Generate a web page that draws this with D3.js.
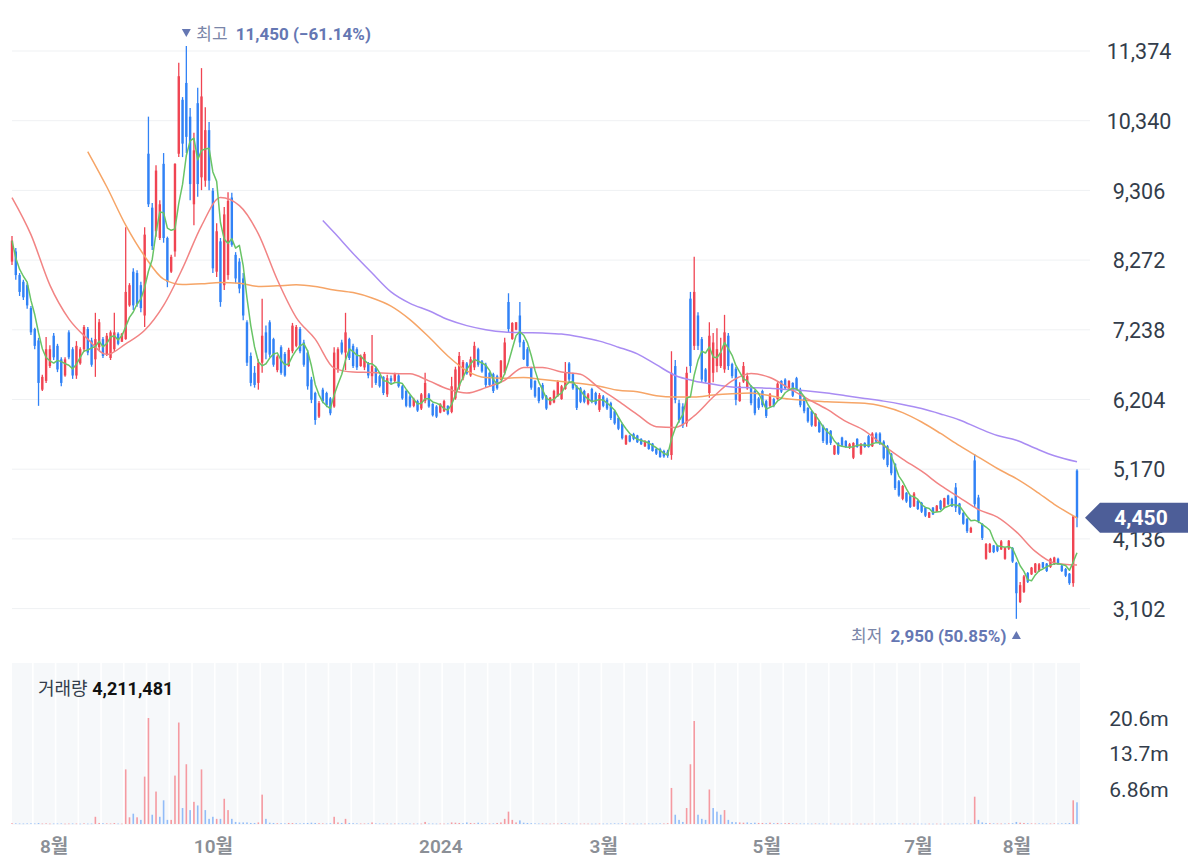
<!DOCTYPE html>
<html lang="ko"><head><meta charset="utf-8">
<script src="https://cdn.jsdelivr.net/npm/d3@7/dist/d3.min.js"></script>
<style>
html,body{margin:0;padding:0;background:#ffffff;overflow:hidden;}
svg{display:block;}
text{font-family:Roboto,"Noto Sans CJK KR",sans-serif;}
</style></head><body>
<svg id="chart" width="1188" height="868"></svg>
<script>
// [open, high, low, close] per trading day
const ohlc = [
[8250,8630,8200,8560],[8400,8450,7980,8050],[8050,8080,7740,7800],[7950,7980,7680,7720],[7900,7930,7550,7600],[7560,7590,7160,7200],[7250,7270,6950,7000],[7080,7120,6110,6450],[6350,6570,6330,6540],[6480,7130,6450,6950],
[6700,7010,6670,6950],[7150,7190,6790,6830],[7000,7030,6610,6650],[6800,6830,6400,6450],[6560,6830,6540,6800],[7200,7230,6800,6830],[6950,6980,6510,6560],[6560,7070,6510,7000],[6740,6980,6720,6950],[6950,7310,6910,7280],
[7250,7280,6860,6900],[7080,7120,6690,6720],[6800,7490,6540,7100],[6980,7400,6940,7350],[7100,7130,6820,6850],[6880,7190,6850,7150],[6820,7230,6790,7200],[6950,7490,6910,7200],[7180,7200,7010,7030],[7060,7190,7060,7180],
[7100,8760,7090,7800],[7600,7930,7580,7900],[8100,8150,7530,7600],[8080,8120,7580,7620],[7900,7950,7500,7560],[7450,8760,7280,8650],[9850,10400,9060,9100],[9050,9120,8420,8480],[8700,9680,8620,9600],[8600,9160,8570,9100],
[9700,9860,8530,8600],[8600,8620,7870,7950],[8100,8350,8080,8320],[8400,9710,8320,9700],[9850,11200,9800,11000],[10650,10690,9800,10000],[10900,11450,9860,10100],[10400,10530,9160,9400],[9100,10160,8790,9900],[10600,10830,9210,9400],
[9500,11120,9310,10700],[9450,10540,9360,10200],[10200,10320,9310,9450],[9300,9340,8080,8150],[8100,8820,8020,8700],[8550,8600,7580,7650],[7900,9060,7830,8950],[8050,9280,7980,9150],[9200,9270,8470,8500],[8350,8390,7930,8000],
[8250,8300,7780,7850],[8000,8080,7380,7450],[7350,7380,6700,6750],[6850,6900,6400,6450],[6600,6700,6380,6420],[6450,6800,6350,6750],[6750,7700,6600,7150],[7200,7300,6800,6900],[7350,7380,6830,6870],[7100,7120,6690,6720],
[6640,6860,6610,6840],[6980,7010,6570,6600],[6880,6910,6540,6560],[6700,6970,6690,6940],[6920,7340,6890,7300],[7000,7310,6980,7280],[7250,7280,6890,6920],[7050,7090,6690,6720],[6900,6940,6350,6400],[6500,6540,6150,6200],
[6300,6320,5830,5900],[5950,6180,5930,6150],[6350,6380,6150,6180],[6300,6320,6090,6120],[6220,6240,5970,6000],[6100,6980,6080,6900],[6650,6980,6600,6950],[7050,7090,6870,6900],[6900,7490,6640,7200],[7100,7120,6790,6820],
[7000,7030,6670,6700],[6950,6980,6640,6680],[6700,6870,6690,6850],[6680,6910,6640,6880],[6740,6760,6520,6560],[6550,7160,6380,6700],[6670,6690,6420,6450],[6550,6570,6380,6400],[6540,6550,6270,6300],[6280,6570,6240,6520],
[6520,6560,6430,6480],[6480,6600,6460,6580],[6560,6580,6380,6400],[6400,6420,6200,6220],[6330,6350,6090,6110],[6250,6270,6080,6100],[6110,6230,6090,6210],[6180,6200,6020,6040],[6070,6300,6050,6280],[6180,6600,6150,6450],
[6280,6300,6080,6100],[6140,6150,5950,5970],[6100,6120,5930,5950],[6010,6150,6000,6140],[6030,6200,6020,6180],[6110,6120,5970,5990],[6020,6540,6000,6400],[6220,6690,6200,6650],[6400,6910,6350,6850],[6520,6790,6490,6760],
[6740,6760,6570,6590],[6560,6840,6540,6800],[6680,7060,6640,7000],[6950,6970,6690,6720],[6770,6790,6600,6620],[6720,6750,6380,6420],[6600,6610,6390,6420],[6580,6600,6300,6330],[6550,6570,6350,6370],[6500,6790,6490,6780],
[6600,7120,6570,7050],[7650,7780,7200,7250],[7100,7350,7090,7340],[7240,7350,7230,7350],[7450,7650,6980,7050],[7060,7090,6790,6800],[6950,6980,6690,6700],[6680,6690,6350,6380],[6480,6490,6230,6250],[6380,6390,6150,6180],
[6420,6450,6200,6220],[6250,6270,6050,6070],[6130,6240,6120,6230],[6160,6350,6150,6330],[6260,6490,6240,6470],[6210,6420,6200,6400],[6360,6760,6350,6600],[6740,6760,6460,6500],[6580,6600,6350,6370],[6400,6420,6050,6080],
[6370,6390,6150,6170],[6330,6350,6150,6170],[6140,6300,6120,6280],[6360,6380,6150,6170],[6300,6320,6120,6140],[6050,6300,6020,6270],[6250,6270,6090,6110],[6200,6230,6050,6070],[6150,6170,5900,5930],[6030,6050,5830,5850],
[5930,5950,5750,5770],[5840,5860,5610,5630],[5540,5680,5530,5670],[5670,5680,5570,5580],[5690,5710,5600,5620],[5670,5680,5560,5570],[5620,5630,5530,5540],[5510,5600,5500,5590],[5590,5600,5460,5470],[5550,5560,5430,5440],
[5470,5490,5380,5400],[5470,5490,5340,5350],[5440,5460,5340,5360],[5430,5460,5340,5370],[5380,6920,5310,6600],[6700,6790,6150,6200],[6150,6200,5860,5900],[6100,6150,5780,5820],[5850,6690,5800,6600],[7700,7800,6600,6700],
[7000,8320,6940,7800],[7450,7500,6940,7000],[7100,7130,6460,6500],[6650,6670,6450,6470],[6300,7350,6230,7150],[6600,7190,6460,7050],[6700,7260,6610,6950],[6700,7120,6670,6900],[6650,7460,6600,7200],[7150,7190,6640,6700],
[6730,6750,6520,6550],[6660,6690,6120,6200],[6180,6460,6170,6400],[6470,6760,6450,6700],[6370,6600,6350,6550],[6400,6420,6120,6150],[6330,6350,5970,6000],[6220,6240,6050,6080],[6330,6350,6090,6120],[6180,6200,5930,5960],
[6110,6300,6090,6280],[6210,6230,6090,6110],[6210,6460,6200,6440],[6480,6490,6300,6320],[6500,6520,6350,6370],[6360,6490,6350,6480],[6450,6460,6240,6260],[6520,6540,6350,6360],[6350,6380,6090,6120],[6220,6240,6000,6030],
[6080,6090,5860,5880],[6030,6050,5800,5820],[5810,6000,5800,5990],[5880,5900,5710,5720],[5810,5830,5560,5590],[5770,5780,5530,5550],[5740,5750,5530,5560],[5390,5530,5380,5520],[5560,5570,5380,5400],[5640,5650,5500,5520],
[5590,5600,5490,5500],[5500,5560,5470,5540],[5340,5570,5320,5560],[5620,5630,5490,5500],[5400,5560,5380,5540],[5560,5570,5490,5500],[5660,5680,5490,5500],[5510,5720,5500,5700],[5700,5720,5560,5580],[5700,5720,5530,5550],
[5580,5600,5310,5330],[5510,5530,5200,5230],[5400,5410,5080,5110],[5250,5260,4860,4890],[4990,5010,4760,4780],[4730,4935,4710,4920],[4820,4830,4670,4690],[4770,4790,4595,4610],[4620,4830,4610,4810],[4700,4715,4565,4580],
[4670,4685,4520,4540],[4600,4610,4460,4480],[4450,4535,4445,4530],[4600,4610,4490,4500],[4540,4640,4535,4630],[4700,4715,4565,4580],[4600,4745,4595,4740],[4780,4790,4640,4650],[4730,4745,4610,4620],[4900,4965,4535,4600],
[4660,4670,4490,4510],[4520,4535,4345,4360],[4430,4445,4225,4250],[4230,4315,4225,4300],[5300,5395,4610,4650],[4750,4790,4370,4400],[4360,4370,4120,4150],[3840,4075,3825,4060],[3940,4075,3925,4060],[4040,4045,3925,3940],
[4030,4045,3940,3960],[3980,4120,3970,4100],[3840,4015,3825,4000],[3990,4120,3970,4110],[4000,4015,3780,3800],[3780,3795,2950,3330],[3200,3495,3185,3450],[3350,3600,3335,3580],[3630,3645,3480,3500],[3610,3720,3600,3710],
[3640,3780,3630,3770],[3660,3780,3645,3760],[3790,3795,3705,3710],[3770,3780,3645,3660],[3720,3855,3705,3840],[3760,3870,3750,3860],[3840,3855,3750,3760],[3740,3750,3645,3660],[3690,3705,3570,3590],[3620,3630,3455,3480],
[3480,4480,3425,4470],[5150,5170,4310,4450]
];

// traded shares per day
const volumes = [
150000,120000,100000,90000,110000,130000,100000,180000,90000,120000,
80000,90000,100000,110000,70000,90000,100000,90000,70000,120000,
80000,90000,1400000,200000,150000,120000,100000,180000,90000,80000,
10600000,1300000,2000000,1300000,800000,9200000,20580000,1800000,6300000,1400000,
4600000,800000,800000,9400000,19700000,3100000,11600000,2700000,4300000,3600000,
10600000,2700000,1000000,1400000,1000000,1000000,4900000,2700000,1000000,400000,
300000,300000,300000,200000,200000,300000,5700000,1000000,250000,200000,
150000,150000,120000,200000,180000,150000,120000,150000,200000,250000,
200000,150000,120000,100000,150000,1400000,300000,200000,1000000,200000,
150000,120000,100000,100000,120000,300000,120000,100000,100000,90000,
80000,90000,100000,100000,120000,90000,80000,90000,80000,400000,
100000,90000,80000,90000,80000,100000,300000,250000,200000,150000,
300000,200000,150000,250000,150000,120000,100000,120000,200000,300000,
1000000,2400000,800000,300000,700000,250000,200000,150000,120000,100000,
100000,90000,80000,100000,90000,150000,120000,100000,90000,80000,
80000,90000,80000,70000,80000,90000,80000,90000,100000,120000,
100000,120000,90000,80000,80000,70000,90000,80000,100000,90000,
100000,120000,100000,150000,7000000,1800000,800000,400000,3100000,11600000,
20000000,1800000,1000000,800000,6700000,3100000,2400000,1800000,2700000,800000,
400000,350000,300000,250000,300000,200000,250000,200000,200000,150000,
250000,150000,200000,120000,150000,200000,120000,100000,100000,90000,
90000,80000,100000,90000,80000,70000,80000,70000,60000,70000,
60000,70000,60000,70000,60000,70000,60000,80000,70000,60000,
80000,90000,80000,100000,90000,80000,70000,80000,70000,60000,
70000,60000,70000,60000,70000,60000,60000,70000,80000,100000,
80000,90000,100000,90000,5300000,800000,300000,200000,150000,120000,
100000,90000,100000,120000,150000,400000,250000,200000,150000,120000,
100000,120000,100000,90000,100000,120000,100000,120000,150000,200000,
4600000,4211481
];

// moving averages, one value every 5 trading days (first = line start, last = final day)
const ma20Start = 0;
const ma20 = [9200,8650,7900,7400,7100,6870,7030,7230,7600,8150,8780,9200,9080,8660,7980,7420,7100,6670,6612,6605,6590,6585,6480,6360,6300,6380,6490,6680,6680,6612,6580,6370,6180,5980,5800,5790,5960,6240,6480,6590,6530,6370,6210,6060,5880,5740,5520,5320,5140,4930,4750,4570,4460,4240,3950,3780,3750];
const ma60Start = 20;
const ma60 = [9880,9360,8790,8330,7990,7910,7920,7940,7930,7880,7890,7905,7880,7830,7790,7710,7590,7390,7130,6850,6630,6530,6520,6530,6500,6470,6440,6400,6340,6320,6260,6240,6240,6270,6290,6300,6260,6210,6190,6170,6160,6150,6100,6010,5870,5700,5520,5350,5180,5030,4850,4650,4446];
const ma120Start = 82;
const ma120 = [8860,8680,8370,8080,7800,7630,7520,7390,7300,7240,7205,7195,7190,7175,7130,7070,6980,6880,6720,6560,6480,6430,6390,6380,6370,6350,6330,6300,6260,6220,6180,6130,6070,5990,5900,5780,5670,5600,5480,5370,5280];

const priceTicks = [11374,10340,9306,8272,7238,6204,5170,4136,3102];
const volumeTicks = [6860000,13700000,20600000];
const volumeTickLabels = ["6.86m","13.7m","20.6m"];
const monthLabels = ["8월","10월","2024","3월","5월","7월","8월"];
const monthCandles = [11,53,113,156,199,239,265];

const RED = "#f04452", BLUE = "#3182f6";
const N = ohlc.length;
const svg = d3.select("#chart");
const fmt = d3.format(",");

const x = d3.scaleLinear().domain([0, N - 1]).range([12, 1077]);
const y = d3.scaleLinear().domain([3102, 11374]).range([608.6, 51]);
const vMax = d3.max(volumes);
const yv = d3.scaleLinear().domain([0, vMax]).range([824, 718]);

// ---------- volume panel background ----------
svg.append("rect").attr("x", 12).attr("y", 663).attr("width", 1068).attr("height", 162).attr("fill", "#f6f8fa");
svg.append("g").selectAll("line").data(d3.range(0, N, 6)).join("line")
  .attr("x1", d => x(d) - 1.9).attr("x2", d => x(d) - 1.9)
  .attr("y1", 663).attr("y2", 825).attr("stroke", "#ffffff").attr("stroke-width", 1.6);

// ---------- price grid ----------
svg.append("g").selectAll("line").data(priceTicks).join("line")
  .attr("x1", 12).attr("x2", 1090).attr("y1", d => y(d)).attr("y2", d => y(d))
  .attr("stroke", "#eff1f3").attr("stroke-width", 1);

// ---------- right price axis ----------
const ay = svg.append("g").attr("transform", "translate(1139,0)")
  .call(d3.axisRight(y).tickValues(priceTicks).tickFormat(fmt).tickSize(0));
ay.select(".domain").remove();
ay.selectAll("text").attr("x", 0).attr("dy", "0.36em").attr("text-anchor", "middle")
  .attr("fill", "#333d4b").style("font-size", "21.5px").style("font-family", "Roboto, sans-serif");

// ---------- candles ----------
const up = (d, i) => d[3] >= d[0];
const cg = svg.append("g");
cg.selectAll("line").data(ohlc).join("line")
  .attr("x1", (d, i) => x(i)).attr("x2", (d, i) => x(i))
  .attr("y1", d => y(d[1])).attr("y2", d => y(d[2]))
  .attr("stroke", d => up(d) ? RED : BLUE).attr("stroke-width", 1.3);
cg.selectAll("rect").data(ohlc).join("rect")
  .attr("x", (d, i) => x(i) - 1.2).attr("width", 2.4)
  .attr("y", d => y(Math.max(d[0], d[3])))
  .attr("height", d => Math.max(1.2, Math.abs(y(d[0]) - y(d[3]))))
  .attr("fill", d => up(d) ? RED : BLUE);

// ---------- moving averages ----------
function sampled(vals, start) {
  const idx = [start].concat(d3.range(Math.ceil((start + 1) / 5) * 5, N - 5, 5)).concat([N - 1]);
  return vals.map((v, k) => [idx[k], v]);
}
const closes = ohlc.map(d => d[3]);
const ma5 = closes.map((c, i) => [i, d3.mean(closes.slice(Math.max(0, i - 4), i + 1))]);
const smooth = d3.line().x(d => x(d[0])).y(d => y(d[1])).curve(d3.curveMonotoneX);
const straight = d3.line().x(d => x(d[0])).y(d => y(d[1]));
const maG = svg.append("g").attr("fill", "none").attr("stroke-width", 1.5).attr("stroke-linejoin", "round");
maG.append("path").attr("d", smooth(sampled(ma120, ma120Start))).attr("stroke", "#a98cf3");
maG.append("path").attr("d", smooth(sampled(ma60, ma60Start))).attr("stroke", "#f6a567");
maG.append("path").attr("d", smooth(sampled(ma20, ma20Start))).attr("stroke", "#f28484");
maG.append("path").attr("d", straight(ma5)).attr("stroke", "#69c466");

// ---------- volume bars ----------
const vg = svg.append("g");
vg.selectAll("rect").data(volumes).join("rect")
  .attr("x", (d, i) => x(i) - 0.8).attr("width", 1.6)
  .attr("y", d => yv(d)).attr("height", d => Math.max(0.6, yv(0) - yv(d)))
  .attr("fill", (d, i) => {
    const prev = i > 0 ? closes[i - 1] : ohlc[0][0];
    return closes[i] >= prev ? "#f59aa1" : "#92bcf8";
  });

const av = svg.append("g").attr("transform", "translate(1139,0)")
  .call(d3.axisRight(yv).tickValues(volumeTicks).tickFormat((d, i) => volumeTickLabels[i]).tickSize(0));
av.select(".domain").remove();
av.selectAll("text").attr("x", 0).attr("dy", "0.36em").attr("text-anchor", "middle")
  .attr("fill", "#333d4b").style("font-size", "21px").style("font-family", "Roboto, sans-serif");

// volume caption
const vt = svg.append("text").attr("x", 38).attr("y", 695).style("font-size", "18px");
vt.append("tspan").attr("fill", "#333d4b").text("거래량 ");
vt.append("tspan").attr("fill", "#111").attr("font-weight", 700).text(fmt(volumes[N - 1]));

// ---------- month axis ----------
const ax = svg.append("g").attr("transform", "translate(0,846)")
  .call(d3.axisBottom(x).tickValues(monthCandles).tickFormat((d, i) => monthLabels[i]).tickSize(0));
ax.select(".domain").remove();
ax.selectAll("text").attr("y", 0).attr("dy", "0.36em").attr("fill", "#8b8f96")
  .style("font-size", "19px").style("font-weight", "600");

// ---------- high / low markers ----------
const last = closes[N - 1];
const hiIdx = d3.maxIndex(ohlc, d => d[1]);
const loIdx = d3.minIndex(ohlc, d => d[2]);
const hi = ohlc[hiIdx][1], lo = ohlc[loIdx][2];
const pct = v => (v >= 0 ? "" : "") + d3.format(".2f")(v) + "%";
const MK = "#6577b3";

const hx = x(hiIdx);
svg.append("path").attr("d", `M${hx - 4.5},29 L${hx + 4.5},29 L${hx},37 Z`).attr("fill", MK);
const ht = svg.append("text").attr("x", hx + 10).attr("y", 40).style("font-size", "17px");
ht.append("tspan").attr("fill", "#7a86a8").text("최고 ");
ht.append("tspan").attr("fill", MK).attr("font-weight", 700).attr("dx", 4)
  .text(`${fmt(hi)} (${pct((last - hi) / hi * 100)})`);

const lx = x(loIdx);
svg.append("path").attr("d", `M${lx - 4.5},639 L${lx + 4.5},639 L${lx},631 Z`).attr("fill", MK);
const lt = svg.append("text").attr("x", lx - 10).attr("y", 642).attr("text-anchor", "end").style("font-size", "17px");
lt.append("tspan").attr("fill", "#7a86a8").text("최저 ");
lt.append("tspan").attr("fill", MK).attr("font-weight", 700).attr("dx", 4)
  .text(`${fmt(lo)} (${pct((last - lo) / lo * 100)})`);

// ---------- current price tag ----------
const cy = y(last);
svg.append("path")
  .attr("d", `M1085,${cy} L1100,${cy - 15} L1188,${cy - 15} L1188,${cy + 15} L1100,${cy + 15} Z`)
  .attr("fill", "#4d5e98");
svg.append("text").attr("x", 1141).attr("y", cy).attr("dy", "0.36em").attr("text-anchor", "middle")
  .attr("fill", "#fff").attr("font-weight", 700).style("font-size", "21px").text(fmt(last));
</script>
</body></html>
